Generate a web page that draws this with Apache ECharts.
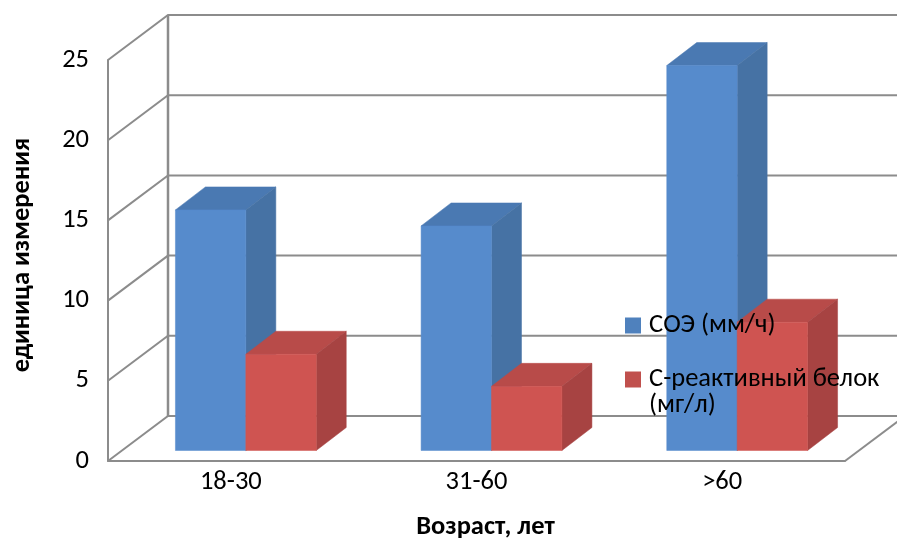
<!DOCTYPE html>
<html><head><meta charset="utf-8">
<script src="https://cdn.jsdelivr.net/npm/echarts@6/dist/echarts.min.js"></script>
<style>html,body{margin:0;padding:0;background:#fff}#c{width:897px;height:539px}</style>
</head><body><div id="c"></div>
<script>
var categories = ['18-30', '31-60', '>60'];
var esrValues = [15, 14, 24];
var crpValues = [6, 4, 8];
var yTicks = [0, 5, 10, 15, 20, 25];
var esrName = 'СОЭ (мм/ч)';
var crpName = 'С-реактивный белок (мг/л)';
var xTitle = 'Возраст, лет';
var yTitle = 'единица измерения';

var FONT = 'Carlito, Lato, "Open Sans", sans-serif';
var WALL = '#8c8c8c';
var WALL_DX = 60, WALL_DY = -45, BASE_DX = 15, BASE_DY = -10.5, DEPTH_DX = 30, DEPTH_DY = -23;

function wallItem(params, api) {
  var cs = params.coordSys;
  var y = api.coord([0, api.value(0)])[1];
  var x0 = cs.x, xb = cs.x + WALL_DX, yb = y + WALL_DY;
  var xEnd = cs.x + cs.width + WALL_DX;
  var children = [{
    type: 'polyline',
    shape: { points: [[x0, y], [xb, yb], [xEnd, yb]] },
    style: { fill: 'none', stroke: WALL, lineWidth: 2 }
  }];
  if (api.value(0) === 0) {
    children.push({ type: 'line', shape: { x1: cs.x + cs.width, y1: y, x2: xEnd, y2: yb },
      style: { stroke: WALL, lineWidth: 2 } });
    var top = api.coord([0, yTicks[yTicks.length - 1]])[1];
    children.push({ type: 'line', shape: { x1: xb, y1: yb, x2: xb, y2: top + WALL_DY },
      style: { stroke: WALL, lineWidth: 2.5 } });
  }
  return { type: 'group', children: children };
}

function barRenderer(side, front, sideC, topC) {
  return function (params, api) {
    var p = api.coord([api.value(0), api.value(1)]);
    var b = api.coord([api.value(0), 0]);
    var w = api.size([1, 0])[0] * 0.2866;
    var xL = p[0] + BASE_DX + (side < 0 ? -w : 0), xR = xL + w;
    var yT = p[1] + BASE_DY, yB = b[1] + BASE_DY;
    var poly = function (pts, c) {
      return { type: 'polygon', shape: { points: pts }, style: { fill: c, stroke: c, lineWidth: 0.5 } };
    };
    return { type: 'group', children: [
      poly([[xL, yT], [xR, yT], [xR + DEPTH_DX, yT + DEPTH_DY], [xL + DEPTH_DX, yT + DEPTH_DY]], topC),
      poly([[xR, yT], [xR + DEPTH_DX, yT + DEPTH_DY], [xR + DEPTH_DX, yB + DEPTH_DY], [xR, yB]], sideC),
      poly([[xL, yT], [xR, yT], [xR, yB], [xL, yB]], front)
    ] };
  };
}

function toData(vals) { return vals.map(function (v, i) { return [i, v]; }); }

var chart = echarts.init(document.getElementById('c'), null, { renderer: 'canvas' });
chart.setOption({
  animation: false,
  backgroundColor: '#fff',
  grid: { left: 108, right: 52, top: 60, bottom: 78, outerBoundsMode: 'none', containLabel: false },
  xAxis: {
    type: 'category', data: categories,
    axisTick: { show: false },
    axisLine: { lineStyle: { color: WALL, width: 2 } },
    axisLabel: { color: '#000', fontSize: 26.5, fontFamily: FONT, margin: 8 },
    name: xTitle, nameLocation: 'middle', nameGap: 53,
    nameTextStyle: { color: '#000', fontSize: 26.5, fontWeight: 'bold', fontFamily: FONT, padding: [0, 0, 0, 18] }
  },
  yAxis: {
    type: 'value', min: 0, max: 25, interval: 5,
    splitLine: { show: false },
    axisTick: { show: false },
    axisLine: { show: true, lineStyle: { color: WALL, width: 2 } },
    axisLabel: { color: '#000', fontSize: 26.5, fontFamily: FONT, margin: 19 },
    name: yTitle, nameLocation: 'middle', nameGap: 72, nameRotate: 90,
    nameTextStyle: { color: '#000', fontSize: 26.5, fontWeight: 'bold', fontFamily: FONT, padding: [0, 0, 0, 11] }
  },
  legend: {
    orient: 'vertical', left: 625, top: 312, padding: 0,
    itemWidth: 16, itemHeight: 16, itemGap: 1,
    icon: 'rect', selectedMode: false,
    data: [esrName, crpName],
    formatter: function (n) {
      return n === crpName ? '\nС-реактивный белок\n(мг/л)' : n;
    },
    textStyle: { color: '#000', fontSize: 26.5, lineHeight: 26, fontFamily: FONT, padding: [0, 0, 0, 3] }
  },
  series: [
    { type: 'custom', name: 'wall', silent: true, z: 1, clip: false,
      data: yTicks.map(function (t) { return [t]; }), encode: { y: 0 }, renderItem: wallItem },
    { type: 'custom', name: esrName, z: 2, clip: false, itemStyle: { color: '#4f81bd' },
      data: toData(esrValues), encode: { x: 0, y: 1 },
      renderItem: barRenderer(-1, '#568bcc', '#4672a4', '#4a79b2') },
    { type: 'custom', name: crpName, z: 3, clip: false, itemStyle: { color: '#c0504d' },
      data: toData(crpValues), encode: { x: 0, y: 1 },
      renderItem: barRenderer(1, '#cf5451', '#a74342', '#b84b49') }
  ]
});
</script></body></html>
